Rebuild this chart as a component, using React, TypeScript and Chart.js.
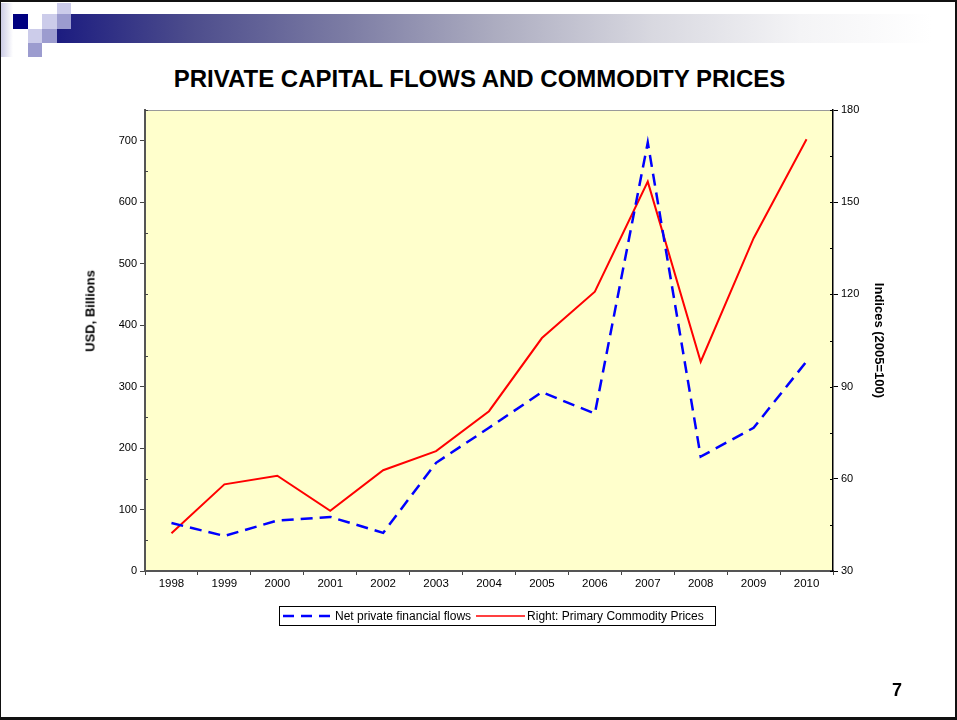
import React, { useEffect, useRef } from "react";
import { Chart, registerables } from "chart.js";

Chart.register(...registerables);

const years = ["1998", "1999", "2000", "2001", "2002", "2003", "2004", "2005", "2006", "2007", "2008", "2009", "2010"];
const netPrivateFlows = [78, 57, 82, 88, 62, 176, 233, 291, 256, 697, 186, 233, 341];
const commodityPrices = [42.3, 58.2, 61, 49.6, 62.8, 69, 82, 105.8, 120.9, 156.7, 98.1, 138.3, 170.5];
const leftTicks = [0, 100, 200, 300, 400, 500, 600, 700];
const rightTicks = [30, 60, 90, 120, 150, 180];

const flowLabel = "Net private financial flows";
const priceLabel = "Right: Primary Commodity Prices";
const titleText = "PRIVATE CAPITAL FLOWS AND COMMODITY PRICES";
const leftTitle = "USD, Billions";
const rightTitle = "Indices (2005=100)";

const FONT = "Arial, 'Liberation Sans', sans-serif";

const plotBg = {
  id: "plotBg",
  beforeDraw(chart: any) {
    const { ctx, chartArea } = chart;
    ctx.save();
    ctx.fillStyle = "#FFFFCC";
    ctx.fillRect(chartArea.left, chartArea.top, chartArea.right - chartArea.left, chartArea.bottom - chartArea.top);
    ctx.strokeStyle = "#9a9a9a";
    ctx.lineWidth = 1;
    ctx.beginPath();
    ctx.moveTo(chartArea.left, chartArea.top + 0.5);
    ctx.lineTo(chartArea.right, chartArea.top + 0.5);
    ctx.stroke();
    ctx.restore();
  },
  afterDraw(chart: any) {
    const { ctx, chartArea } = chart;
    const yl = chart.scales.y;
    const yr = chart.scales.y1;
    ctx.save();
    ctx.lineWidth = 1;
    ctx.strokeStyle = "#444";
    for (let i = 0; i < leftTicks.length; i++) {
      const v = leftTicks[i] + 50;
      const p = Math.round(yl.getPixelForValue(v)) + 0.5;
      ctx.beginPath();
      ctx.moveTo(chartArea.left, p);
      ctx.lineTo(chartArea.left + 3, p);
      ctx.stroke();
    }
    ctx.strokeStyle = "#000";
    for (let i = 0; i < rightTicks.length; i++) {
      const p = Math.round(yr.getPixelForValue(rightTicks[i])) + 0.5;
      ctx.beginPath();
      ctx.moveTo(chartArea.right - 3, p);
      ctx.lineTo(chartArea.right, p);
      ctx.stroke();
      if (i < rightTicks.length - 1) {
        const q = Math.round(yr.getPixelForValue(rightTicks[i] + 15)) + 0.5;
        ctx.beginPath();
        ctx.moveTo(chartArea.right - 3, q);
        ctx.lineTo(chartArea.right, q);
        ctx.stroke();
      }
    }
    ctx.restore();
  },
};

function ChartCanvas() {
  const ref = useRef<HTMLCanvasElement | null>(null);
  useEffect(() => {
    if (!ref.current) return;
    const chart = new Chart(ref.current, {
      type: "line",
      data: {
        labels: years,
        datasets: [
          {
            label: flowLabel,
            data: netPrivateFlows,
            borderColor: "#0000FF",
            borderWidth: 2.5,
            borderDash: [12, 7],
            pointRadius: 0,
            tension: 0,
            yAxisID: "y",
          },
          {
            label: priceLabel,
            data: commodityPrices,
            borderColor: "#FF0000",
            borderWidth: 2,
            pointRadius: 0,
            tension: 0,
            yAxisID: "y1",
          },
        ],
      },
      options: {
        responsive: false,
        animation: false,
        devicePixelRatio: 1,
        layout: { padding: { left: 80, top: 110, right: 67, bottom: 124 } },
        plugins: { legend: { display: false }, tooltip: { enabled: false }, title: { display: false } },
        scales: {
          x: {
            type: "category",
            offset: true,
            grid: { offset: true, drawOnChartArea: false, drawTicks: true, tickLength: 4, color: "#444", tickWidth: 1 },
            border: { display: true, color: "#555", width: 2 },
            ticks: { color: "#000", font: { family: FONT, size: 11.5 }, padding: 2, maxRotation: 0, autoSkip: false },
            afterFit: (s: any) => { s.height = 25; },
          },
          y: {
            type: "linear",
            position: "left",
            min: 0,
            max: 750,
            afterBuildTicks: (s: any) => { s.ticks = leftTicks.map((v) => ({ value: v })); },
            grid: { drawOnChartArea: false, drawTicks: true, tickLength: 5, color: "#444" },
            border: { display: true, color: "#555", width: 2 },
            ticks: { color: "#000", font: { family: FONT, size: 11 }, padding: 3 },
            afterFit: (s: any) => { s.width = 65; },
          },
          y1: {
            type: "linear",
            position: "right",
            min: 30,
            max: 180,
            afterBuildTicks: (s: any) => { s.ticks = rightTicks.map((v) => ({ value: v })); },
            grid: { drawOnChartArea: false, drawTicks: true, tickLength: 5, color: "#000" },
            border: { display: true, color: "#000", width: 1.5 },
            ticks: { color: "#000", font: { family: FONT, size: 11 }, padding: 3 },
            title: { display: true, text: rightTitle, color: "#000", font: { family: FONT, size: 13, weight: "bold" }, padding: { top: 4, bottom: 4 } },
            afterFit: (s: any) => { s.width = 57; },
          },
        },
      },
      plugins: [plotBg],
    });
    return () => chart.destroy();
  }, []);
  return <canvas ref={ref} width={957} height={720} style={{ position: "absolute", left: 0, top: 0, width: 957, height: 720 }} />;
}

const sq = (x: number, y: number, w: number, h: number, c: string) => (
  <div style={{ position: "absolute", left: x, top: y, width: w, height: h, background: c }} />
);

export default function App() {
  useEffect(() => {
    document.body.style.margin = "0";
  }, []);
  const light = "#ccccea";
  const mid = "#9c9ccf";
  return (
    <div style={{ position: "absolute", left: 0, top: 0, width: 957, height: 720, background: "#fff", overflow: "hidden", fontFamily: FONT }}>
      {/* decoration */}
      <div style={{ position: "absolute", left: 0, top: 3, width: 13, height: 54, background: "linear-gradient(to right, #c8c8e4, #ffffff)" }} />
      <div style={{ position: "absolute", left: 57, top: 14, width: 875, height: 29, background: "linear-gradient(to right, #1c1c80 0%, #4c4c8c 15%, #7c7ca4 33%, #acacc0 50%, #d8d8e0 68%, #f4f4f6 85%, #ffffff 100%)" }} />
      {sq(13, 14, 15, 15, "#000080")}
      {sq(42, 14, 15, 15, light)}
      {sq(57, 3, 14, 11, light)}
      {sq(57, 14, 14, 15, mid)}
      {sq(28, 29, 14, 14, light)}
      {sq(42, 29, 15, 14, mid)}
      {sq(28, 43, 14, 14, mid)}

      <div style={{ position: "absolute", left: 0, top: 64, width: 957, textAlign: "center", fontSize: 24, fontWeight: "bold", color: "#000", lineHeight: "30px" }}>
        <span style={{ position: "relative", left: 1 }}>{titleText}</span>
      </div>

      <ChartCanvas />

      <div style={{ position: "absolute", left: 90, top: 311, transform: "translate(-50%, -50%) rotate(-90deg)", fontSize: 13, fontWeight: "bold", whiteSpace: "nowrap", color: "#000" }}>
        {leftTitle}
      </div>

      {/* legend */}
      <div style={{ position: "absolute", left: 279, top: 606, width: 435, height: 18, border: "1px solid #000", display: "flex", alignItems: "center", fontSize: 12, color: "#000", whiteSpace: "nowrap" }}>
        <svg width={52} height={10} style={{ marginLeft: 3 }}>
          <line x1={0} y1={5} x2={50} y2={5} stroke="#0000FF" strokeWidth={2.5} strokeDasharray="11 7" />
        </svg>
        <span>{flowLabel}</span>
        <svg width={50} height={10} style={{ marginLeft: 5 }}>
          <line x1={0} y1={5} x2={49} y2={5} stroke="#FF0000" strokeWidth={1.5} />
        </svg>
        <span style={{ marginLeft: 1 }}>{priceLabel}</span>
      </div>

      <div style={{ position: "absolute", left: 892, top: 680, fontSize: 18, fontWeight: "bold", color: "#000" }}>7</div>

      {/* slide border */}
      <div style={{ position: "absolute", left: 0, top: 0, width: 957, height: 720, boxSizing: "border-box", borderTop: "2px solid #111", borderLeft: "1px solid #111", borderRight: "2px solid #111", borderBottom: "3px solid #111", pointerEvents: "none" }} />
    </div>
  );
}
